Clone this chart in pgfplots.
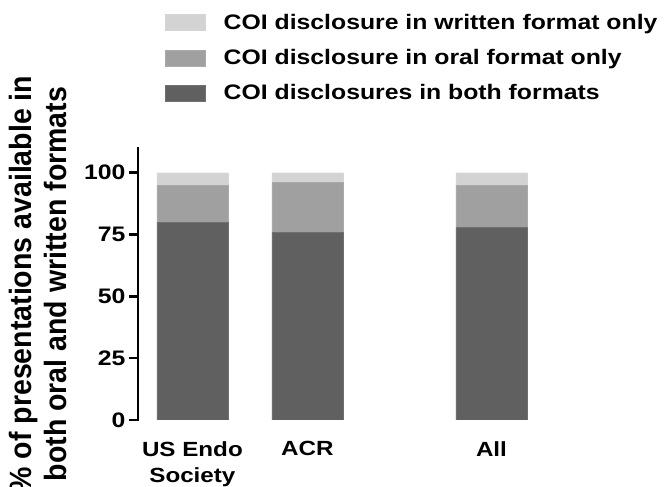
\documentclass[border=0pt]{standalone}
\usepackage{pgfplots}
\pgfplotsset{compat=1.18}
\usepackage{fontspec}
\setmainfont{Liberation Sans}
\newfontfamily\wf[FakeStretch=1.18]{Liberation Sans}
\usepackage{graphicx}
\definecolor{cwritten}{HTML}{D3D3D3}
\definecolor{coral}{HTML}{A0A0A0}
\definecolor{cboth}{HTML}{606060}
\begin{document}
\begin{tikzpicture}
\begin{axis}[
  name=ax,
  at={(0,0)}, anchor=south west,
  scale only axis,
  width=411pt, height=272pt,
  xmin=-0.473, xmax=3.1,
  ymin=0, ymax=110,
  ybar stacked,
  bar width=71pt,
  axis lines*=left,
  x axis line style={draw=none},
  axis line style={line width=2.6pt},
  y axis line style={line width=2.6pt, line cap=rect},
  ytick={0,25,50,75,100},
  xtick={0,1,2.6},
  xticklabels={{US Endo\\Society},ACR,All},
  x tick label style={align=center, anchor=north, yshift=-9pt, font=\wf\fontsize{20.5}{26}\selectfont\bfseries},
  y tick label style={font=\wf\fontsize{21}{24}\selectfont\bfseries},
  /pgf/number format/assume math mode=true,
  tick style={line width=2.6pt, black},
  ytick style={line width=2.6pt},
  xtick style={draw=none},
  major tick length=9pt,
  tick align=outside,
  ylabel={\scalebox{1}[1.08]{\fontsize{28.5}{32}\selectfont\bfseries\renewcommand{\arraystretch}{1}\begin{tabular}{@{}c@{}}\% of presentations available in\\both oral and written formats\end{tabular}}},
  ylabel style={inner sep=4pt},
  legend style={draw=none, fill=none, at={(axis description cs:0.066,1.50)}, anchor=north west,
    font=\wf\fontsize{21}{25}\selectfont\bfseries, row sep=14.5pt, inner sep=0pt},
  legend cell align=left,
  reverse legend,
  legend image code/.code={\fill[#1] (0pt,-8pt) rectangle (40pt,8pt); \path (56pt,0pt);},
]
\addplot[fill=cboth, draw=cboth!90!white] coordinates {(0,80) (1,76) (2.6,78)};
\addlegendentry{COI disclosures in both formats}
\addplot[fill=coral, draw=coral!90!white] coordinates {(0,15) (1,20) (2.6,17)};
\addlegendentry{COI disclosure in oral format only}
\addplot[fill=cwritten, draw=cwritten!95!white] coordinates {(0,5) (1,4) (2.6,5)};
\addlegendentry{COI disclosure in written format only}
\end{axis}
\pgfresetboundingbox
\path[use as bounding box] ([shift={(-138pt,-67pt)}]ax.south west) rectangle ([shift={(527pt,420pt)}]ax.south west);
\end{tikzpicture}
\end{document}
